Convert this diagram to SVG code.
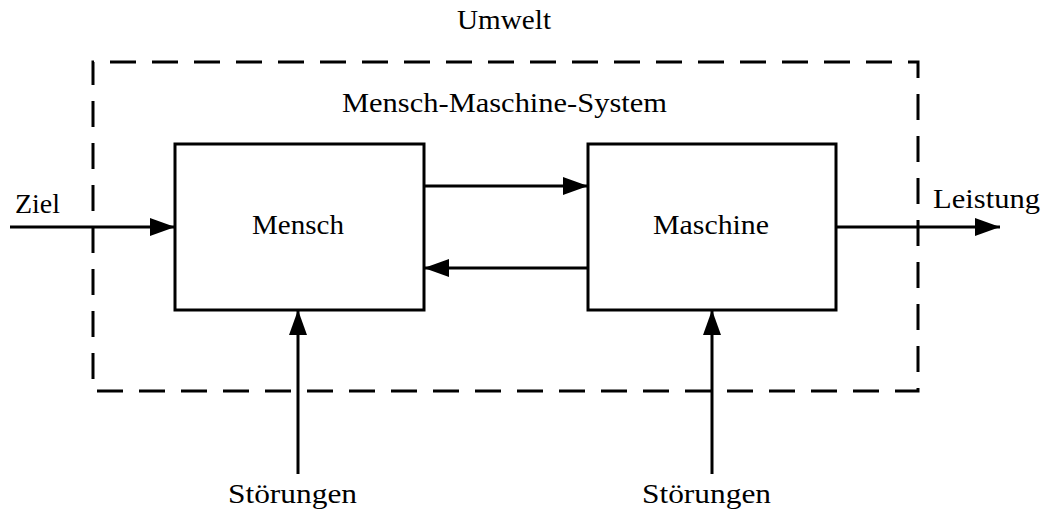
<svg xmlns="http://www.w3.org/2000/svg" width="1047" height="513" viewBox="0 0 1047 513">
<style>
text{font-family:"Liberation Serif","DejaVu Serif",serif;font-size:27px;fill:#000}
.box{fill:none;stroke:#000;stroke-width:3}
.conn{fill:none;stroke:#000;stroke-width:3}
</style>
<defs>
<marker id="ah" markerUnits="userSpaceOnUse" markerWidth="26" markerHeight="20" refX="25" refY="9" orient="auto">
<path d="M0,0 L25,9 L0,18 Z" fill="#000"/>
</marker>
</defs>
<rect width="1047" height="513" fill="#fff"/>
<g id="umwelt">
<text x="457" y="29" textLength="94" lengthAdjust="spacingAndGlyphs">Umwelt</text>
</g>
<g id="system">
<path d="M93,62 H918 V391 H93 Z" fill="none" stroke="#000" stroke-width="3" stroke-dasharray="26 16" stroke-dashoffset="25"/>
<text x="342" y="112" textLength="325" lengthAdjust="spacingAndGlyphs">Mensch-Maschine-System</text>
</g>
<g id="mensch">
<rect class="box" x="175" y="144" width="249" height="166"/>
<text x="252" y="234" textLength="92" lengthAdjust="spacingAndGlyphs">Mensch</text>
</g>
<g id="maschine">
<rect class="box" x="588" y="144" width="248" height="166"/>
<text x="653" y="234" textLength="116" lengthAdjust="spacingAndGlyphs">Maschine</text>
</g>
<g id="labels">
<text x="15" y="213" textLength="45" lengthAdjust="spacingAndGlyphs">Ziel</text>
<text x="933" y="208" textLength="107" lengthAdjust="spacingAndGlyphs">Leistung</text>
<text x="228" y="503" textLength="129" lengthAdjust="spacingAndGlyphs">Störungen</text>
<text x="642" y="503" textLength="129" lengthAdjust="spacingAndGlyphs">Störungen</text>
</g>
<g id="connectors">
<line class="conn" x1="10" y1="227" x2="175" y2="227" marker-end="url(#ah)"/>
<line class="conn" x1="424" y1="186" x2="588" y2="186" marker-end="url(#ah)"/>
<line class="conn" x1="588" y1="268" x2="424" y2="268" marker-end="url(#ah)"/>
<line class="conn" x1="836" y1="227" x2="1000" y2="227" marker-end="url(#ah)"/>
<line class="conn" x1="298" y1="474" x2="298" y2="310" marker-end="url(#ah)"/>
<line class="conn" x1="712" y1="474" x2="712" y2="310" marker-end="url(#ah)"/>
</g>
</svg>
